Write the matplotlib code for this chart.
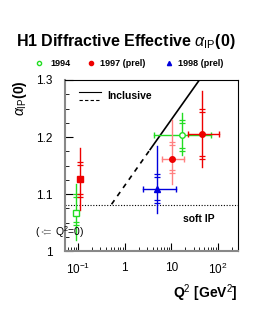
import numpy as np
import matplotlib.pyplot as plt
from matplotlib.ticker import FixedLocator, LogLocator, NullFormatter, MultipleLocator

plt.rcParams['font.family'] = ['Liberation Sans', 'DejaVu Sans']
plt.rcParams['mathtext.fontset'] = 'custom'
plt.rcParams['mathtext.rm'] = 'Liberation Sans'
plt.rcParams['mathtext.it'] = 'Liberation Sans:italic'
plt.rcParams['mathtext.bf'] = 'Liberation Sans:bold'

# H1 1994 (Q2=0 point first, drawn shifted to 0.1)
q2_94 = [0.0875, 16.6]
a_94 = [1.066, 1.204]
q2lo_94 = [0.0875, 4.2]
q2hi_94 = [0.0875, 70.0]
tot_up_94 = [0.051, 0.038]
tot_dn_94 = [0.047, 0.036]
stat_up_94 = [0.029, 0.020]
stat_dn_94 = [0.015, 0.024]

# H1 1997 (prel)
q2_97 = [0.107, 10.3, 45.0]
a_97 = [1.126, 1.161, 1.205]
q2lo_97 = [0.107, 6.3, 22.7]
q2hi_97 = [0.107, 18.6, 108.0]
tot_up_97 = [0.054, 0.069, 0.075]
tot_dn_97 = [0.054, 0.043, 0.058]
stat_up_97 = [0.025, 0.025, 0.039]
stat_dn_97 = [0.026, 0.019, 0.039]
col_97 = ['#ee0000', '#ff8080', '#ee0000']

# H1 1998 (prel)
q2_98 = [4.9]
a_98 = [1.109]
q2lo_98 = [2.5]
q2hi_98 = [12.4]
tot_up_98 = [0.075]
tot_dn_98 = [0.042]
stat_up_98 = [0.021]
stat_dn_98 = [0.020]

# inclusive fit (linear in log Q2)
incl_q2 = [0.52, 3.5, 40.0]
incl_a = [1.082, 1.178, 1.30]
soft_pom = 1.08

fig = plt.figure(figsize=(2.68, 3.2), dpi=100)
ax = fig.add_axes([0.2425, 0.2156, 0.6455, 0.5344])
ax.set_xscale('log')
ax.set_xlim(0.052, 270)
ax.set_ylim(1.0, 1.3)


def draw(q2, a, lo, hi, up, dn, sup, sdn, col, i):
    c = col[i] if isinstance(col, list) else col
    ax.plot([q2[i], q2[i]], [a[i] - dn[i], a[i] + up[i]], color=c, lw=1.0, zorder=3)
    if hi[i] > lo[i]:
        ax.plot([lo[i], hi[i]], [a[i], a[i]], color=c, lw=1.0, zorder=3)
        ax.plot([lo[i], hi[i]], [a[i], a[i]], color=c, lw=0, marker='|', ms=4, zorder=3)
    for yy in (a[i] + sup[i], a[i] + sup[i] + 0.005, a[i] - sdn[i], a[i] - sdn[i] - 0.005):
        ax.plot([q2[i]], [yy], color=c, marker='_', ms=5, mew=0.9, zorder=3)


for i in range(len(q2_94)):
    draw(q2_94, a_94, q2lo_94, q2hi_94, tot_up_94, tot_dn_94, stat_up_94, stat_dn_94, '#22dd22', i)
for i in range(len(q2_97)):
    draw(q2_97, a_97, q2lo_97, q2hi_97, tot_up_97, tot_dn_97, stat_up_97, stat_dn_97, col_97, i)
for i in range(len(q2_98)):
    draw(q2_98, a_98, q2lo_98, q2hi_98, tot_up_98, tot_dn_98, stat_up_98, stat_dn_98, '#0000dd', i)

ax.plot(q2_94[:1], a_94[:1], 's', mfc='white', mec='#22dd22', ms=4, mew=1, zorder=4)
ax.plot(q2_94[1:], a_94[1:], 'o', mfc='white', mec='#22dd22', ms=4, mew=1, zorder=4)
ax.plot(q2_97[:1], a_97[:1], 's', color='#ee0000', ms=4, zorder=4)
ax.plot(q2_97[1:2], a_97[1:2], 'o', color='#ee0000', ms=4, zorder=4)
ax.plot(q2_97[2:], a_97[2:], 'o', color='#ee0000', ms=4, zorder=4)
ax.plot(q2_98, a_98, '^', color='#0000dd', ms=4, zorder=4)

ax.plot(incl_q2[:2], incl_a[:2], color='black', lw=1.2, ls=(0, (3, 3)))
ax.plot(incl_q2[1:], incl_a[1:], color='black', lw=1.2)
ax.axhline(soft_pom, color='black', lw=0.8, ls=(0, (1, 1.5)))

ax.text(0.685, 0.187, 'soft IP', transform=ax.transAxes, fontsize=7.5, fontweight='bold', va='center')

# inset legend
ax.plot([0.08, 0.21], [0.93, 0.93], transform=ax.transAxes, color='black', lw=0.8)
ax.plot([0.08, 0.21], [0.883, 0.883], transform=ax.transAxes, color='black', lw=0.8, ls=(0, (3, 2)))
ax.text(0.245, 0.908, 'Inclusive', transform=ax.transAxes, fontsize=7.5, fontweight='bold', va='center')

ax.xaxis.set_major_locator(FixedLocator([0.1, 1, 10, 100]))
ax.set_xticklabels([r'$10^{-1}$', '1', '10', r'$10^{2}$'])
ax.xaxis.set_minor_locator(LogLocator(base=10, subs=np.arange(2, 10)))
ax.xaxis.set_minor_formatter(NullFormatter())
ax.yaxis.set_major_locator(FixedLocator([1.0, 1.1, 1.2, 1.3]))
ax.set_yticklabels(['1', '1.1', '1.2', '1.3'])
ax.yaxis.set_minor_locator(MultipleLocator(0.025))
ax.tick_params(axis='both', which='both', direction='in', top=False, right=False)
ax.tick_params(axis='both', which='major', length=6, width=0.8, labelsize=8.5)
ax.tick_params(axis='both', which='minor', length=3, width=0.6)
ax.tick_params(axis='x', which='major', pad=8)
ax.tick_params(axis='y', which='major', pad=9)
for s in ax.spines.values():
    s.set_linewidth(0.8)
ax.spines['left'].set_color('#888888')
ax.spines['left'].set_linewidth(1.5)
ax.spines['bottom'].set_color('#888888')
ax.spines['bottom'].set_linewidth(1.5)

fig.text(0.075, 0.748, r'$\alpha_{\mathrm{IP}}$(0)', rotation=90, ha='center', va='top', fontsize=10, fontweight='bold')
fig.text(0.885, 0.085, r'Q$^2$ [GeV$^2$]', ha='right', va='center', fontsize=10, fontweight='bold')
fig.text(0.13, 0.275, r'($\Leftarrow$ Q$^2$=0)', ha='left', va='center', fontsize=7.5)
fig.text(0.47, 0.87, r'H1 Diffractive Effective $\alpha_{\mathrm{IP}}$(0)', ha='center', va='center',
         fontsize=11.5, fontweight='bold')

# top legend
lx = fig.add_axes([0, 0, 1, 1], facecolor='none')
lx.set_xlim(0, 268)
lx.set_ylim(320, 0)
lx.axis('off')
lx.plot([39], [63], 'o', mfc='white', mec='#22dd22', ms=3, mew=1)
lx.text(50, 63, '1994', fontsize=6.5, fontweight='bold', va='center')
lx.plot([91], [63], 'o', color='#ee0000', ms=3)
lx.text(100, 63, '1997 (prel)', fontsize=6.5, fontweight='bold', va='center')
lx.plot([169], [63], '^', color='#0000dd', ms=3)
lx.text(178, 63, '1998 (prel)', fontsize=6.5, fontweight='bold', va='center')

fig.savefig('out.png', dpi=100)
